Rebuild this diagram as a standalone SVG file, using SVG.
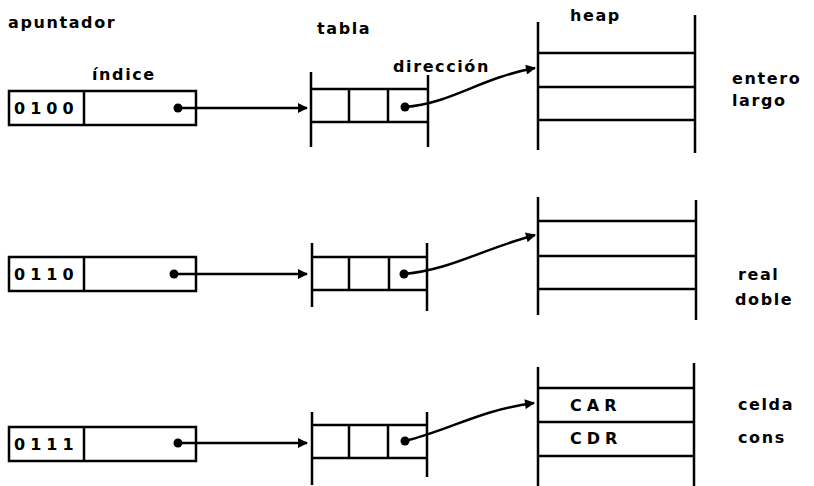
<svg xmlns="http://www.w3.org/2000/svg" width="814" height="486" viewBox="0 0 814 486">
<defs>
<marker id="ah" viewBox="0 0 10 10" refX="9" refY="5" markerWidth="14" markerHeight="10" markerUnits="userSpaceOnUse" orient="auto">
<path d="M0,0 L10,5 L0,10 z" fill="#000"/>
</marker>
</defs>
<style>
.ln{stroke:#000;stroke-width:2.5;fill:none}
.bx{stroke:#000;stroke-width:2.5;fill:#fff}
.t{font-family:"DejaVu Sans",sans-serif;font-weight:bold;font-size:16px;fill:#000;letter-spacing:1.6px}
.n{font-family:"DejaVu Sans",sans-serif;font-weight:bold;font-size:16px;fill:#000;letter-spacing:5px}
.c{stroke:#000;stroke-width:2.5;fill:none;marker-end:url(#ah)}
</style>
<rect width="814" height="486" fill="#fff"/>
<g id="labels">
<text class="t" x="8" y="28">apuntador</text>
<text class="t" x="92" y="80">índice</text>
<text class="t" x="317" y="34">tabla</text>
<text class="t" x="393" y="72">dirección</text>
<text class="t" x="570" y="21">heap</text>
</g>
<g id="ptr1">
<rect class="bx" x="9" y="91" width="187" height="34"/>
<line class="ln" x1="84" y1="91" x2="84" y2="125"/>
<text class="n" x="14" y="114">0100</text>
<circle cx="178" cy="108" r="4.5"/>
</g>
<g id="ptr2">
<rect class="bx" x="9" y="257" width="187" height="34"/>
<line class="ln" x1="84" y1="257" x2="84" y2="291"/>
<text class="n" x="14" y="280">0110</text>
<circle cx="174" cy="274" r="4.5"/>
</g>
<g id="ptr3">
<rect class="bx" x="9" y="427" width="187" height="34"/>
<line class="ln" x1="84" y1="427" x2="84" y2="461"/>
<text class="n" x="14" y="450">0111</text>
<circle cx="178" cy="443" r="4.5"/>
</g>
<g id="tabla1">
<line class="ln" x1="311" y1="72" x2="311" y2="147"/>
<line class="ln" x1="428" y1="75" x2="428" y2="147"/>
<line class="ln" x1="311" y1="89" x2="428" y2="89"/>
<line class="ln" x1="311" y1="122" x2="428" y2="122"/>
<line class="ln" x1="349" y1="89" x2="349" y2="122"/>
<line class="ln" x1="388" y1="89" x2="388" y2="122"/>
<circle cx="405" cy="107" r="4.5"/>
</g>
<g id="tabla2">
<line class="ln" x1="312" y1="243" x2="312" y2="307"/>
<line class="ln" x1="427" y1="243" x2="427" y2="311"/>
<line class="ln" x1="312" y1="257" x2="427" y2="257"/>
<line class="ln" x1="312" y1="290" x2="427" y2="290"/>
<line class="ln" x1="349" y1="257" x2="349" y2="290"/>
<line class="ln" x1="389" y1="257" x2="389" y2="290"/>
<circle cx="404" cy="274" r="4.5"/>
</g>
<g id="tabla3">
<line class="ln" x1="312" y1="412" x2="312" y2="485"/>
<line class="ln" x1="427" y1="412" x2="427" y2="477"/>
<line class="ln" x1="312" y1="425" x2="427" y2="425"/>
<line class="ln" x1="312" y1="458" x2="427" y2="458"/>
<line class="ln" x1="349" y1="425" x2="349" y2="458"/>
<line class="ln" x1="388" y1="425" x2="388" y2="458"/>
<circle cx="405" cy="441" r="4.5"/>
</g>
<g id="heap1">
<line class="ln" x1="538" y1="22" x2="538" y2="150"/>
<line class="ln" x1="695" y1="15" x2="695" y2="153"/>
<line class="ln" x1="538" y1="53" x2="695" y2="53"/>
<line class="ln" x1="538" y1="87" x2="695" y2="87"/>
<line class="ln" x1="538" y1="120" x2="695" y2="120"/>
<text class="t" x="732" y="84">entero</text>
<text class="t" x="732" y="106">largo</text>
</g>
<g id="heap2">
<line class="ln" x1="538" y1="197" x2="538" y2="315"/>
<line class="ln" x1="696" y1="200" x2="696" y2="320"/>
<line class="ln" x1="538" y1="221" x2="696" y2="221"/>
<line class="ln" x1="538" y1="256" x2="696" y2="256"/>
<line class="ln" x1="538" y1="289" x2="696" y2="289"/>
<text class="t" x="738" y="280">real</text>
<text class="t" x="735" y="305">doble</text>
</g>
<g id="heap3">
<line class="ln" x1="538" y1="367" x2="538" y2="486"/>
<line class="ln" x1="694" y1="363" x2="694" y2="486"/>
<line class="ln" x1="538" y1="388" x2="694" y2="388"/>
<line class="ln" x1="538" y1="422" x2="694" y2="422"/>
<line class="ln" x1="538" y1="456" x2="694" y2="456"/>
<text class="n" x="570" y="411">CAR</text>
<text class="n" x="570" y="444">CDR</text>
<text class="t" x="738" y="410">celda</text>
<text class="t" x="738" y="443">cons</text>
</g>
<g id="connectors">
<path class="c" d="M178,108 L307,108"/>
<path class="c" d="M174,274 L307,274"/>
<path class="c" d="M178,443 L307,443"/>
<path class="c" d="M405,107 C450,104 480,78 535,68"/>
<path class="c" d="M404,274 C450,270 480,250 535,235"/>
<path class="c" d="M405,441 C450,430 480,410 534,403"/>
</g>
</svg>
